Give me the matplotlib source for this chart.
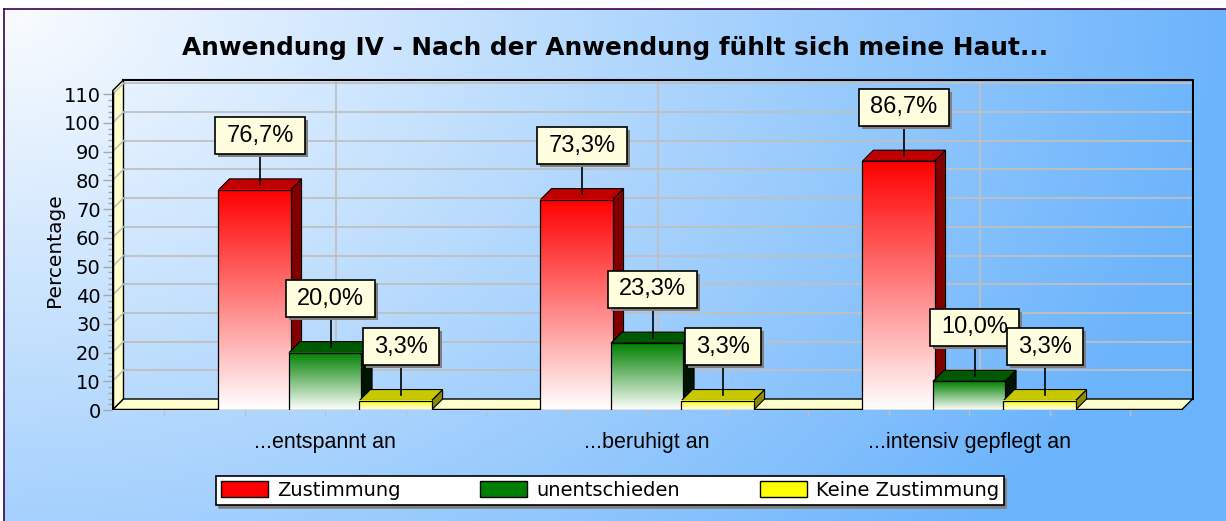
import matplotlib

matplotlib.use("Agg")
import matplotlib.pyplot as plt
import numpy as np
from matplotlib.patches import Polygon, Rectangle, Patch
from matplotlib.path import Path
from matplotlib.colors import LinearSegmentedColormap
from matplotlib import transforms

plt.rcParams.update({"font.family": "DejaVu Sans"})

categories = ["...entspannt an", "...beruhigt an", "...intensiv gepflegt an"]
series = ["Zustimmung", "unentschieden", "Keine Zustimmung"]
zustimmung = [76.7, 73.3, 86.7]
unentschieden = [20.0, 23.3, 10.0]
keine_zustimmung = [3.3, 3.3, 3.3]
yticks = list(range(0, 111, 10))
title = "Anwendung IV - Nach der Anwendung fühlt sich meine Haut..."

W, H = 1226, 521
fig = plt.figure(figsize=(W / 100, H / 100), dpi=100)

# hintergrund: verlauf weiss -> blau
bg = fig.add_axes([0, 0, 1, 1], zorder=-10)
u = np.linspace(0, 1, 500)[None, :]
v = np.linspace(0, 1, 250)[:, None]
t = np.clip(np.sqrt(u ** 2 + (0.6 * v) ** 2), 0, 1)
c0 = np.array([250, 252, 255]) / 255
c1 = np.array([108, 180, 252]) / 255
bg.imshow(c0 + (c1 - c0) * t[..., None], extent=(4, W, H, 9), aspect="auto",
          interpolation="bilinear")
bg.plot([4, W], [9, 9], color="#3c0050", lw=1.2)
bg.plot([4, 4], [9, H], color="#3c0050", lw=1.2)
bg.set_xlim(0, W)
bg.set_ylim(H, 0)
bg.axis("off")

# pseudo-3d geometrie
CAT_PX, PCT_PX = 322.0, 2.87
X0PX, Y0PX = 325.0, 410.0
xlim, ylim = (-0.66, 2.70), (0, 116)
left = X0PX + xlim[0] * CAT_PX
ax = fig.add_axes([left / W, (H - Y0PX) / H,
                   (xlim[1] - xlim[0]) * CAT_PX / W, ylim[1] * PCT_PX / H])
ax.patch.set_alpha(0)
for s in ax.spines.values():
    s.set_visible(False)

DX, DY = 11 / CAT_PX, 11 / PCT_PX
XA, XB, YTOP = -0.66, 2.66, 111.2
WALL = "#ffffcc"

# rueckwand-gitter
for yv in yticks[1:]:
    ax.plot([XA + DX, XB + DX], [yv + DY, yv + DY], color="#c0c0c0", lw=1.3, zorder=1)
for i in range(len(categories)):
    ax.plot([i + DX, i + DX], [DY, YTOP + DY], color="#c0c0c0", lw=1.3, zorder=1)
ax.plot([XA + DX, XB + DX, XB + DX], [YTOP + DY, YTOP + DY, DY], color="black", lw=1.5, zorder=2)

# linke wand + boden
ax.add_patch(Polygon([(XA, 0), (XA + DX, DY), (XA + DX, YTOP + DY), (XA, YTOP)],
                     closed=True, facecolor=WALL, edgecolor="black", lw=1, zorder=2))
for yv in yticks[1:]:
    ax.plot([XA, XA + DX], [yv, yv + DY], color="#c0c0c0", lw=1.2, zorder=3)
ax.add_patch(Polygon([(XA, 0), (XB, 0), (XB + DX, DY), (XA + DX, DY)],
                     closed=True, facecolor=WALL, edgecolor="black", lw=1, zorder=2))
ax.plot([XA, XB], [0, 0], color="black", lw=2.5, zorder=4, solid_capstyle="butt")
ax.plot([XA, XA], [0, YTOP], color="black", lw=2.5, zorder=4, solid_capstyle="butt")

# balken
data = [zustimmung, unentschieden, keine_zustimmung]
front = ["#ff0000", "#008000", "#ffff00"]
top_c = ["#c00000", "#005800", "#c8c800"]
side_c = ["#800000", "#001400", "#8c8c00"]
offsets = [-0.219, 0.0, 0.219]
BW = 0.224

for k, vals in enumerate(data):
    cm = LinearSegmentedColormap.from_list("g%d" % k, ["white", front[k]])
    z = 10 + 4 * k
    for i, val in enumerate(vals):
        x0 = i + offsets[k] - BW / 2
        x1 = x0 + BW
        ax.add_patch(Polygon([(x1, 0), (x1 + DX, DY), (x1 + DX, val + DY), (x1, val)],
                             closed=True, facecolor=side_c[k], edgecolor="black", lw=0.8, zorder=z))
        ax.add_patch(Polygon([(x0, val), (x1, val), (x1 + DX, val + DY), (x0 + DX, val + DY)],
                             closed=True, facecolor=top_c[k], edgecolor="black", lw=0.8, zorder=z))
        ax.imshow(np.linspace(0, 1, 128)[:, None], extent=(x0, x1, 0, val), origin="lower",
                  cmap=cm, aspect="auto", interpolation="bilinear", zorder=z + 1)
        ax.add_patch(Rectangle((x0, 0), BW, val, facecolor="none", edgecolor="black",
                               lw=0.9, zorder=z + 2))


def label_box(x0, y0, width, height, mutation_size):
    # feste kastenhoehe, seitlicher rand
    cy = y0 + height / 2
    hx, hy = 11, 18.5
    xa, xb, ya, yb = x0 - hx, x0 + width + hx, cy - hy, cy + hy
    return Path([(xa, ya), (xb, ya), (xb, yb), (xa, yb), (xa, ya)],
                [Path.MOVETO, Path.LINETO, Path.LINETO, Path.LINETO, Path.CLOSEPOLY])


LEAD = 30 / PCT_PX
HALF = 18.5 / PCT_PX
labels = []
for k, vals in enumerate(data):
    for i, val in enumerate(vals):
        cx = i + offsets[k] + DX / 2
        cy = val + DY / 2
        z = 40 + 3 * k
        ax.plot([cx, cx], [cy, cy + LEAD], color="black", lw=1.2, zorder=z)
        txt = ("%.1f%%" % val).replace(".", ",")
        labels.append(ax.text(cx, cy + LEAD + HALF, txt, ha="center", va="center",
                              fontsize=17, family="Liberation Sans", color="black",
                              zorder=z + 1,
                              bbox=dict(boxstyle=label_box, facecolor="#ffffe0",
                                        edgecolor="black", lw=1.2)))

ax.set_xlim(*xlim)
ax.set_ylim(*ylim)
ax.set_yticks(yticks)
ax.set_yticks(np.arange(0, 111, 2), minor=True)
ax.tick_params(axis="y", which="major", length=6.5, color="#a8a8a8", width=1,
               labelsize=14, pad=2)
ax.tick_params(axis="y", which="minor", length=3, color="#a8a8a8", width=1)
ax.set_xticks(range(len(categories)))
ax.set_xticklabels(categories, fontsize=15.5, family="Liberation Sans")
ax.set_xticks(np.arange(-0.5, 2.51, 0.25), minor=True)
ax.tick_params(axis="x", which="both", length=4, color="#c0c0c0", width=1, pad=12)

fig.text(55 / W, 1 - 250 / H, "Percentage", rotation=90, ha="center", va="center",
         fontsize=14.5)
fig.text(615 / W, 1 - 48 / H, title, ha="center", va="center", fontsize=17.8,
         fontweight="bold")

handles = [Patch(facecolor=c, edgecolor="black", lw=1) for c in front]
leg = fig.legend(handles, series, loc="center", bbox_to_anchor=(610 / W, 1 - 490.5 / H),
                 ncol=3, fontsize=14, frameon=True, fancybox=False,
                 shadow={"color": "#808080", "alpha": 1.0}, edgecolor="black",
                 framealpha=1, handlelength=2.42, handleheight=0.87,
                 handletextpad=0.46, columnspacing=4.1, borderpad=0.25)
leg.get_frame().set_linewidth(1.2)

# schatten der wertekaesten
fig.canvas.draw()
for tx in labels:
    bb = tx.get_bbox_patch().get_window_extent()
    ax.add_patch(Rectangle((bb.x0 + 3, bb.y0 - 3), bb.width, bb.height,
                           transform=transforms.IdentityTransform(), facecolor="#808080",
                           edgecolor="none", zorder=tx.get_zorder() - 0.5, clip_on=False))

fig.savefig("out.png", dpi=100)
